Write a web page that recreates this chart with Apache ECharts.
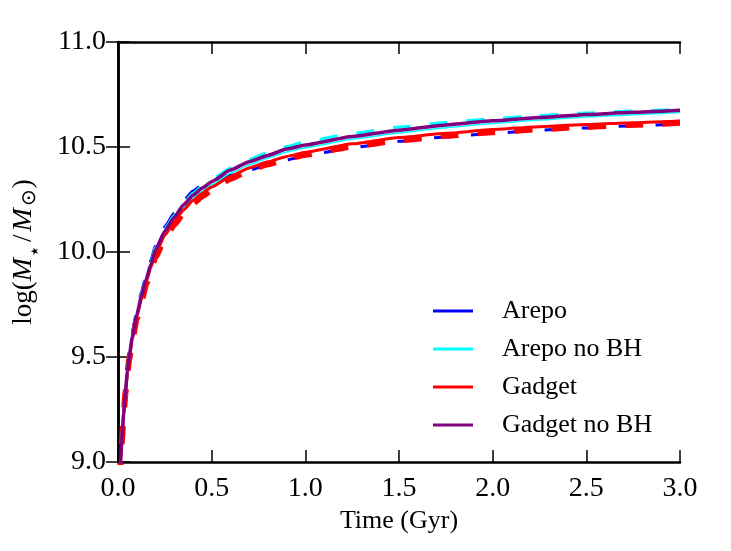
<!DOCTYPE html>
<html>
<head>
<meta charset="utf-8">
<title>Stellar mass growth</title>
<script src="https://cdn.jsdelivr.net/npm/echarts@6/dist/echarts.min.js"></script>
<style>
    html, body { margin: 0; padding: 0; background: #fff; }
    #main { width: 731px; height: 551px; }
</style>
</head>
<body>
<div id="main"></div>
<script>
// 时间 (Gyr)
var time = [0, 0.01, 0.015, 0.02, 0.03, 0.04, 0.05, 0.06, 0.075, 0.1, 0.125, 0.15, 0.175, 0.2, 0.25, 0.3, 0.35, 0.4, 0.45, 0.5, 0.6, 0.7, 0.8, 0.9, 1.0, 1.25, 1.5, 1.75, 2.0, 2.25, 2.5, 2.75, 3.0];

// log(M*/Msun)
var arepo = [7.5, 8.95, 9.04, 9.12, 9.25, 9.36, 9.45, 9.52, 9.61, 9.72, 9.81, 9.89, 9.96, 10.03, 10.12, 10.185, 10.245, 10.29, 10.32, 10.34, 10.365, 10.39, 10.414, 10.438, 10.458, 10.497, 10.527, 10.548, 10.565, 10.58, 10.591, 10.601, 10.61];
var arepoNoBH = [7.5, 8.94, 9.03, 9.11, 9.24, 9.35, 9.44, 9.51, 9.60, 9.71, 9.80, 9.88, 9.95, 10.02, 10.11, 10.175, 10.235, 10.28, 10.315, 10.345, 10.40, 10.44, 10.475, 10.502, 10.525, 10.565, 10.595, 10.617, 10.635, 10.65, 10.662, 10.671, 10.68];
var arepoNoBHSolid = [7.5, 8.93, 9.02, 9.10, 9.23, 9.34, 9.43, 9.50, 9.59, 9.70, 9.785, 9.86, 9.93, 9.995, 10.085, 10.15, 10.21, 10.255, 10.29, 10.32, 10.375, 10.415, 10.447, 10.476, 10.497, 10.537, 10.567, 10.592, 10.612, 10.628, 10.643, 10.654, 10.664];
var gadget = [7.5, 8.92, 9.01, 9.09, 9.22, 9.33, 9.42, 9.49, 9.58, 9.69, 9.775, 9.855, 9.925, 9.99, 10.08, 10.145, 10.20, 10.245, 10.28, 10.31, 10.36, 10.40, 10.43, 10.455, 10.475, 10.515, 10.545, 10.565, 10.583, 10.597, 10.607, 10.616, 10.624];
var gadgetDashed = [7.5, 8.92, 9.01, 9.09, 9.22, 9.33, 9.42, 9.49, 9.575, 9.68, 9.765, 9.845, 9.91, 9.975, 10.065, 10.13, 10.185, 10.23, 10.265, 10.295, 10.348, 10.388, 10.418, 10.443, 10.463, 10.502, 10.532, 10.553, 10.57, 10.585, 10.596, 10.606, 10.615];
var gadgetNoBH = [7.5, 8.93, 9.02, 9.10, 9.23, 9.34, 9.43, 9.50, 9.59, 9.70, 9.79, 9.87, 9.94, 10.01, 10.10, 10.165, 10.225, 10.27, 10.305, 10.335, 10.39, 10.43, 10.46, 10.49, 10.51, 10.55, 10.58, 10.605, 10.625, 10.64, 10.655, 10.665, 10.675];

var legendNames = ['Arepo', 'Arepo no BH', 'Gadget', 'Gadget no BH'];

function pairs(ys) {
    return time.map(function (t, i) { return [t, ys[i]]; });
}

(function () {
    var myChart = echarts.init(document.getElementById('main'));
    var font = 'Liberation Serif';

    // 四边都有向内的刻度
    function axisBase(min, max, showLabel) {
        return {
            type: 'value',
            min: min,
            max: max,
            interval: 0.5,
            splitLine: { show: false },
            axisLine: { lineStyle: { color: '#000', width: 2.5 } },
            axisTick: { inside: true, length: 12, lineStyle: { color: '#000', width: 1.5 } },
            axisLabel: {
                show: showLabel,
                color: '#000',
                fontFamily: font,
                fontSize: 28,
                formatter: function (v) { return v.toFixed(1); }
            }
        };
    }

    var xBottom = axisBase(0, 3, true);
    xBottom.position = 'bottom';
    xBottom.axisLabel.margin = 13;
    xBottom.name = 'Time (Gyr)';
    xBottom.nameLocation = 'middle';
    xBottom.nameGap = 46;
    xBottom.nameTextStyle = { color: '#000', fontFamily: font, fontSize: 26 };

    var xTop = axisBase(0, 3, false);
    xTop.position = 'top';

    var yLeft = axisBase(9, 11, true);
    yLeft.position = 'left';
    yLeft.axisLabel.margin = 12;
    yLeft.name = 'log({i|M}{st|★}{p|/}{i|M}{s|⊙})';
    yLeft.nameLocation = 'middle';
    yLeft.nameRotate = 90;
    yLeft.nameGap = 78;
    yLeft.nameTextStyle = {
        color: '#000',
        fontFamily: font,
        fontSize: 27,
        rich: {
            i: { fontFamily: font, fontSize: 28, fontStyle: 'italic', color: '#000', padding: [0, 2, 0, 0] },
            p: { fontFamily: font, fontSize: 27, color: '#000', padding: [0, 3, 0, 3] },
            st: { fontFamily: 'DejaVu Sans', fontSize: 10, color: '#000', verticalAlign: 'bottom', padding: [12, 2, 0, 0] },
            s: { fontFamily: 'DejaVu Sans', fontSize: 20, color: '#000', verticalAlign: 'bottom', padding: [12, 1, 0, 0] }
        }
    };

    var yRight = axisBase(9, 11, false);
    yRight.position = 'right';

    function line(name, data, color, width, dashed, z) {
        return {
            name: name,
            type: 'line',
            data: data ? pairs(data) : [],
            xAxisIndex: 0,
            yAxisIndex: 0,
            showSymbol: false,
            symbol: 'none',
            smooth: 0.15,
            smoothMonotone: 'x',
            z: z,
            clip: true,
            lineStyle: { color: color, width: width, type: dashed ? [18, 19] : 'solid', cap: 'butt' },
            itemStyle: { color: color },
            emphasis: { disabled: true }
        };
    }

    var option = {
        backgroundColor: '#fff',
        animation: false,
        grid: { left: 118, right: 51, top: 42, bottom: 89 },
        xAxis: [xBottom, xTop],
        yAxis: [yLeft, yRight],
        legend: {
            data: legendNames,
            orient: 'vertical',
            left: 428,
            top: 291,
            icon: 'rect',
            itemWidth: 40,
            itemHeight: 3,
            itemGap: 8,
            itemStyle: { borderWidth: 0 },
            textStyle: {
                color: '#000',
                fontFamily: font,
                fontSize: 26,
                lineHeight: 30,
                padding: [0, 0, 0, 24]
            }
        },
        series: [
            // 虚线（不进图例）
            line('Arepo dashed', arepo, '#0000ff', 3, true, 2),
            line('Gadget dashed', gadgetDashed, '#ff0000', 6, true, 3),
            line('Arepo no BH dashed', arepoNoBH, '#00ffff', 3, true, 4),
            // 实线
            line('Arepo', null, '#0000ff', 3, false, 1),
            line('Arepo no BH', arepoNoBHSolid, '#00ffff', 1.5, false, 5),
            line('Gadget', gadget, '#ff0000', 3, false, 6),
            line('Gadget no BH', gadgetNoBH, '#800080', 3.5, false, 7)
        ]
    };

    myChart.setOption(option);

    window.addEventListener('resize', function () {
        myChart.resize();
    });
})();
</script>
</body>
</html>
